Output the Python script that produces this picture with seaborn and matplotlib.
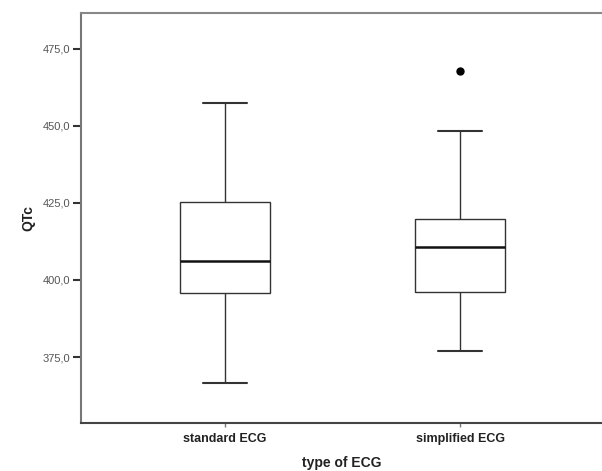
import numpy as np
import pandas as pd
import matplotlib
matplotlib.use("Agg")
import matplotlib.pyplot as plt
import seaborn as sns
from matplotlib.ticker import FuncFormatter

# Data (five-number summaries + outliers)
categories = ["standard ECG", "simplified ECG"]
whisker_low = [366.5, 377.0]
q1 = [395.7, 396.0]
median = [406.1, 410.6]
q3 = [425.3, 419.8]
whisker_high = [457.5, 448.2]
outliers = [[], [467.8]]
y_ticks = [375, 400, 425, 450, 475]

# Build small samples that reproduce these summaries exactly
rows = []
for i, cat in enumerate(categories):
    vals = [whisker_low[i], q1[i], q1[i], median[i], median[i],
            q3[i], q3[i], whisker_high[i]] + outliers[i]
    if not outliers[i]:
        vals = [whisker_low[i], q1[i], median[i], q3[i], whisker_high[i]]
    for v in vals:
        rows.append({"type of ECG": cat, "QTc": v})
df = pd.DataFrame(rows)

sns.set_style("white")
plt.rcParams["font.family"] = ["Liberation Sans", "DejaVu Sans"]

fig = plt.figure(figsize=(6.02, 4.71), dpi=100)
ax = fig.add_axes([81 / 602, 1 - 423 / 471, 1 - 81 / 602, (423 - 13) / 471])

box_color = "#333333"
sns.boxplot(data=df, x="type of ECG", y="QTc", order=categories, ax=ax,
            width=0.38, color="white", linewidth=1.0, linecolor=box_color,
            whis=1.5,
            medianprops=dict(color="#111111", linewidth=1.8),
            whiskerprops=dict(color=box_color, linewidth=1.0),
            capprops=dict(color=box_color, linewidth=1.5),
            flierprops=dict(marker="o", markersize=5, markerfacecolor="black",
                            markeredgecolor="black"),
            boxprops=dict(facecolor="white", edgecolor=box_color))

ax.set_xlim(-144 / 235, 377 / 235)
ax.set_ylim(353.6, 486.6)
ax.set_yticks(y_ticks)
ax.yaxis.set_major_formatter(FuncFormatter(lambda v, p: f"{v:.1f}".replace(".", ",")))

for side in ["left", "top", "bottom"]:
    ax.spines[side].set_visible(True)
    ax.spines[side].set_linewidth(1.5)
ax.spines["left"].set_color("#777777")
ax.spines["top"].set_color("#888888")
ax.spines["bottom"].set_color("#444444")
ax.spines["right"].set_visible(False)

ax.tick_params(axis="y", direction="out", length=6, width=1.5, color="#333333",
               labelsize=8, labelcolor="#555555", pad=2, left=True)
ax.tick_params(axis="x", direction="out", length=3, width=1, color="#777777",
               labelsize=9, labelcolor="#222222", pad=4, bottom=True)
for lab in ax.get_xticklabels():
    lab.set_fontweight("bold")

ax.set_ylabel("QTc", fontsize=10, fontweight="bold", color="#222222", labelpad=5)
ax.set_xlabel("type of ECG", fontsize=10, fontweight="bold", color="#222222", labelpad=8)

fig.savefig("out.png", dpi=100, facecolor="white")
